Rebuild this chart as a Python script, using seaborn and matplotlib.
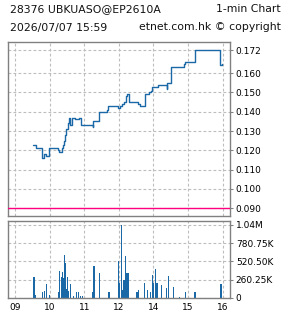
import numpy as np
import pandas as pd
import matplotlib
matplotlib.use("Agg")
import matplotlib.pyplot as plt
import seaborn as sns

# ---- data ----
price_times = ['09:31', '09:36', '09:47', '09:50', '09:54', '09:59', '10:15', '10:17',
               '10:21', '10:23', '10:25', '10:27', '10:29', '10:31', '10:33', '10:35',
               '10:39', '10:44', '10:51', '10:54', '11:15', '11:16', '11:25', '11:39',
               '11:42', '11:59', '13:02', '13:06', '13:09', '13:12', '13:13', '13:14',
               '13:17', '13:33', '13:37', '13:45', '13:52', '13:55', '13:58', '14:07',
               '14:23', '14:24', '14:31', '14:53', '14:55', '15:12', '15:55', '15:58',
               '15:59']
price_values = [0.123, 0.121, 0.116, 0.118, 0.117, 0.121, 0.120, 0.119,
                0.121, 0.123, 0.125, 0.128, 0.131, 0.134, 0.137, 0.133,
                0.137, 0.136, 0.137, 0.133, 0.132, 0.135, 0.140, 0.141,
                0.143, 0.142, 0.143, 0.144, 0.145, 0.147, 0.148, 0.149,
                0.145, 0.144, 0.143, 0.149, 0.150, 0.151, 0.153, 0.154,
                0.152, 0.155, 0.163, 0.165, 0.166, 0.172, 0.164, 0.165,
                0.165]

vol_times = ['09:33', '09:35', '09:48', '09:51', '09:55', '10:00', '10:15', '10:17',
             '10:20', '10:22', '10:24', '10:26', '10:28', '10:29', '10:31', '10:33',
             '10:36', '10:42', '10:47', '10:50', '10:53', '10:57', '11:15', '11:17',
             '11:26', '11:42', '11:44', '11:59', '13:01', '13:04', '13:06', '13:09',
             '13:11', '13:12', '13:14', '13:17', '13:30', '13:32', '13:34', '13:45',
             '13:50', '13:55', '13:58', '14:00', '14:03', '14:06', '14:14', '14:23',
             '14:26', '14:35', '14:45', '14:55', '15:12', '15:57', '15:58']
vol_values = [300000, 35000, 86000, 100000, 196000, 40000, 86000, 380000,
              290000, 370000, 280000, 610000, 500000, 120000, 290000, 95000,
              196000, 30000, 76000, 76000, 30000, 30000, 86000, 450000,
              360000, 76000, 76000, 525000, 215000, 1041000, 110000, 250000,
              600000, 110000, 360000, 360000, 86000, 86000, 110000, 215000,
              110000, 86000, 325000, 215000, 415000, 215000, 180000, 145000,
              310000, 160000, 10000, 76000, 76000, 190000, 200000]

hour_ticks = ['09:00', '10:00', '11:00', '12:00', '14:00', '15:00', '16:00']
hour_labels = ['09', '10', '11', '12', '14', '15', '16']
price_ticks = [0.090, 0.100, 0.110, 0.120, 0.130, 0.140, 0.150, 0.160, 0.172]
vol_ticks = [0, 260250, 520500, 780750, 1041000]
vol_labels = ['0', '260.25K', '520.50K', '780.75K', '1.04M']
ref_price = 0.090


def axis_pos(t):
    # trading-time axis: lunch hour (12:00-13:00) is cut out
    h, m = map(int, t.split(':'))
    pos = h - 9 + m / 60
    if h >= 13:
        pos -= 1
    return pos


price_df = pd.DataFrame({'t': [axis_pos(t) for t in price_times], 'price': price_values})
vol_df = pd.DataFrame({'t': [axis_pos(t) for t in vol_times], 'vol': vol_values})

sns.set_style('white')
plt.rcParams['font.family'] = ['DejaVu Sans']

blue = '#1a68a6'
grey = '#808080'
grid_kw = dict(color='#bdbdbd', linestyle=(0, (2.5, 2)), linewidth=0.8)

fig = plt.figure(figsize=(2.85, 3.18), dpi=100)
W, H = 285, 318
ax1 = fig.add_axes([8 / W, (H - 216) / H, 222 / W, 174.3 / H])
ax2 = fig.add_axes([8 / W, (H - 297.7) / H, 222 / W, 76.7 / H])

xticks = [axis_pos(t) for t in hour_ticks]

# price panel
sns.lineplot(data=price_df, x='t', y='price', ax=ax1, color=blue,
             linewidth=1.0, drawstyle='steps-post', estimator=None)
ax1.axhline(ref_price, color='#ff0080', linewidth=1.0, zorder=3)
ax1.set_ylim(0.0860, 0.1763)
ax1.set_yticks(price_ticks)
ax1.set_yticklabels([f'{v:.3f}' for v in price_ticks])

# volume panel
sns.barplot(data=vol_df, x='t', y='vol', ax=ax2, native_scale=True, orient='x',
            color=blue, saturation=1, width=2.0, linewidth=0, errorbar=None,
            antialiased=False)
ax2.set_ylim(0, 1098000)
ax2.set_yticks(vol_ticks)
ax2.set_yticklabels(vol_labels)

for ax in (ax1, ax2):
    ax.set_xlim(-0.202, 6.21)
    ax.set_xticks(xticks)
    ax.set_xlabel('')
    ax.set_ylabel('')
    ax.grid(True, **grid_kw)
    ax.set_axisbelow(True)
    ax.yaxis.tick_right()
    for s in ax.spines.values():
        s.set_visible(True)
        s.set_color(grey)
        s.set_linewidth(1.0)
    ax.tick_params(axis='y', which='both', right=True, left=False, length=2.2,
                   width=0.75, color=grey, pad=2, labelsize=6.5, labelcolor='black')
    ax.tick_params(axis='x', length=2.2, width=0.75, color=grey, pad=1.5,
                   labelsize=6.5, labelcolor='black')

ax1.tick_params(axis='x', bottom=False, labelbottom=False)
ax2.set_xticklabels(hour_labels)

# header
hdr = dict(va='center', fontsize=7.8, color='#111111')
fig.text(10 / W, 1 - 9.5 / H, '28376 UBKUASO@EP2610A', ha='left', **hdr)
fig.text(281 / W, 1 - 9.5 / H, '1-min Chart', ha='right', **hdr)
fig.text(10 / W, 1 - 27.5 / H, '2026/07/07 15:59', ha='left', **hdr)
fig.text(281 / W, 1 - 27.5 / H, 'etnet.com.hk \u00a9 copyright', ha='right', **hdr)

fig.savefig('out.png', dpi=100)
